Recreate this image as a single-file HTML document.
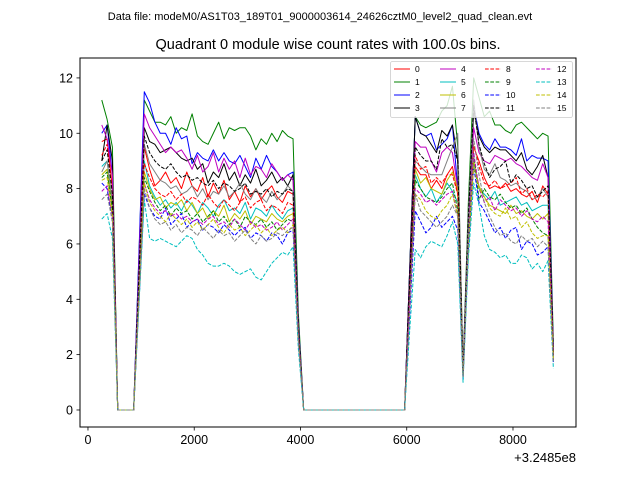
<!DOCTYPE html>
<html><head><meta charset="utf-8"><style>
body{margin:0;background:#fff;}
svg{display:block;font-family:"Liberation Sans","DejaVu Sans",sans-serif;}
</style></head><body>
<svg id="chart" width="640" height="480" xmlns="http://www.w3.org/2000/svg">
<rect width="640" height="480" fill="#fff"/>
<text x="320" y="20" font-size="11" text-anchor="middle">Data file: modeM0/AS1T03_189T01_9000003614_24626cztM0_level2_quad_clean.evt</text>
<text x="328" y="49" font-size="14.5" text-anchor="middle">Quadrant 0 module wise count rates with 100.0s bins.</text>
<g id="plot"></g>
<rect x="80" y="58" width="496" height="369" fill="none" stroke="#000" stroke-width="1"/>
<g id="axes"></g>
<text x="576" y="462" font-size="13" text-anchor="end">+3.2485e8</text>
<g id="legend"></g>
</svg>
<script>
const xTicks = [0, 2000, 4000, 6000, 8000];
const yTicks = [0, 2, 4, 6, 8, 10, 12];
const t0 = 260, dt = 100;
const seriesNames = ["0","1","2","3","4","5","6","7","8","9","10","11","12","13","14","15"];
const Z4=[0,0,0,0], Z19=[0,0,0,0,0,0,0,0,0,0,0,0,0,0,0,0,0,0,0];
const s0 = [9.7,9.8,8.0].concat(Z4,[4.8],[9.5,8.7,8.1,8.3,8.6,8.2,8.4,8.0,8.6,8.1,7.9,8.4,7.7,8.2,7.8,8.3,7.6,7.9,7.5,8.1,7.7,8.0,7.6,7.9,8.1,7.7,7.5,7.9,7.8],[3.0],Z19,[0,4.4],[8.8,8.5,8.5,8.0,8.3,8.0,8.5,8.8,7.8],[1.3],[6.2],[9.5,9.0,8.4,8.0,8.1,8.0,8.2,7.9,8.0,7.8,7.7,7.9,7.5,8.1,7.8],[2.0]);
const s1 = [11.2,10.5,9.5].concat(Z4,[5.6],[11.2,10.8,10.4,10.4,10.3,10.6,10.0,10.2,10.1,10.7,9.9,9.7,9.6,10.0,10.4,9.8,10.2,10.1,10.2,10.2,9.9,9.4,9.8,9.6,10.0,9.7,10.1,9.9,9.8],[3.5],Z19,[0,5.3],[10.6,10.3,10.2,10.3,10.4,10.8,11.0,11.7,9.5],[1.5],[7.5],[12.0,11.3,10.6,10.8,10.3,10.3,10.1,10.0,10.3,10.4,10.2,10.0,9.8,10.0,9.9],[2.4]);
const s2 = [10.0,10.3,8.5].concat(Z4,[5.7],[11.5,11.1,10.4,10.0,10.0,9.6,10.2,9.8,9.9,8.9,9.3,9.1,9.0,9.4,9.0,9.3,9.0,8.9,9.2,8.8,8.4,9.1,8.7,9.2,8.8,8.6,8.3,8.5,8.6],[3.2],Z19,[0,5.3],[10.6,10.0,9.9,10.0,9.4,9.6,9.8,10.3,8.0],[1.4],[7.0],[11.0,10.0,9.6,9.4,9.8,9.5,9.5,9.4,9.2,9.8,9.0,9.2,9.1,9.1,9.0],[2.2]);
const s3 = [9.0,10.3,9.0].concat(Z4,[5.1],[10.2,9.7,9.6,9.3,9.4,9.5,9.3,9.1,9.0,9.1,8.7,8.9,8.2,8.6,8.4,8.9,8.3,8.6,8.1,8.5,8.2,8.7,8.1,8.3,8.6,8.2,8.4,8.1,8.5],[3.1],Z19,[0,5.3],[10.6,10.0,9.9,9.6,9.3,10.1,9.9,10.3,9.0],[1.4],[6.9],[10.8,9.9,9.5,9.3,9.5,9.4,9.4,9.2,9.0,9.3,8.7,8.5,8.8,9.2,8.4],[2.1]);
const s4 = [10.3,9.8,8.5].concat(Z4,[5.3],[10.7,10.2,9.9,9.6,9.3,9.5,9.3,9.4,9.1,8.7,9.2,8.6,8.8,9.3,8.6,9.1,8.7,9.0,8.4,9.1,8.5,8.8,8.7,8.4,8.9,8.6,8.3,8.5,8.3],[3.0],Z19,[0,4.9],[9.7,9.5,9.5,9.0,8.6,9.3,9.5,9.3,8.0],[1.3],[6.6],[10.2,9.3,9.0,8.9,9.2,9.1,9.0,9.1,8.9,8.8,8.6,8.4,8.3,8.9,8.4],[2.0]);
const s5 = [8.8,9.0,7.5].concat(Z4,[4.5],[9.0,8.1,7.7,7.4,7.6,7.3,7.5,7.2,7.6,7.4,7.1,7.5,7.3,7.0,7.4,7.6,7.2,7.3,7.1,7.5,6.9,7.3,7.2,7.0,7.4,7.1,6.9,7.2,7.3],[2.8],Z19,[0,4.3],[8.5,8.0,7.7,8.0,7.5,7.8,8.2,7.9,7.5],[1.2],[6.0],[9.0,8.0,7.8,7.6,7.9,7.4,7.5,7.6,7.7,7.4,7.5,7.2,7.3,7.4,7.4],[1.9]);
const s6 = [8.5,8.7,7.3].concat(Z4,[4.3],[8.6,8.0,7.6,7.7,7.3,7.5,7.4,7.6,7.2,7.5,7.1,7.3,6.9,7.2,7.0,7.4,6.8,7.1,6.9,7.2,6.7,7.0,6.9,6.8,7.1,6.9,6.8,7.0,7.1],[2.7],Z19,[0,4.4],[8.7,8.2,8.4,8.0,7.9,7.8,8.3,8.6,8.0],[1.2],[6.0],[9.0,8.1,7.7,7.4,7.3,7.2,7.1,7.4,7.1,7.2,7.0,6.9,7.1,6.9,7.1],[1.9]);
const s7 = [8.6,9.0,7.5].concat(Z4,[4.8],[9.6,8.9,8.6,8.3,8.2,8.0,8.1,7.8,7.9,8.1,7.7,8.0,7.6,7.9,7.8,8.1,7.7,7.9,8.2,7.8,7.6,8.0,7.7,7.5,7.9,7.6,7.8,8.1,7.9],[2.9],Z19,[0,4.5],[9.0,8.8,8.6,8.5,8.5,8.5,9.0,9.5,10.0],[1.4],[7.2],[11.2,9.5,8.7,8.5,8.9,8.4,8.3,8.1,8.2,8.0,7.9,7.6,7.7,8.0,7.7],[2.0]);
const s8 = [9.2,9.6,7.8].concat(Z4,[4.5],[8.9,8.4,8.0,7.8,7.7,7.9,7.6,7.8,7.5,7.7,7.6,7.4,7.8,7.5,7.3,7.6,7.4,7.2,7.5,7.7,7.3,7.5,7.6,7.2,7.4,7.3,7.1,7.5,7.4],[2.8],Z19,[0,4.6],[9.2,8.7,8.8,8.2,8.4,8.2,8.5,8.5,7.8],[1.3],[6.2],[9.6,8.8,8.2,8.1,8.3,8.0,8.1,8.2,8.4,7.8,8.0,7.6,7.8,7.7,7.9],[2.0]);
const s9 = [8.4,8.6,7.2].concat(Z4,[4.2],[8.4,7.9,7.5,7.2,7.4,7.0,7.3,7.1,7.2,6.9,7.1,6.8,7.0,7.2,6.8,7.0,6.7,6.9,6.6,7.0,6.8,6.7,6.9,6.6,6.8,6.5,6.7,6.9,6.8],[2.6],Z19,[0,4.2],[8.3,8.0,7.7,7.6,7.5,7.7,8.0,8.2,7.2],[1.2],[6.1],[9.3,7.6,8.0,7.7,7.6,7.8,7.5,7.3,7.4,7.1,7.3,6.9,6.6,6.4,6.3],[1.8]);
const s10 = [8.2,8.0,6.8].concat(Z4,[3.9],[7.8,7.3,7.0,6.9,7.3,6.7,6.9,7.1,6.6,6.8,6.9,6.5,6.7,6.6,6.4,6.7,6.5,6.3,6.5,6.6,6.2,6.4,6.3,6.1,6.4,6.3,6.0,6.4,6.5],[2.5],Z19,[0,3.6],[7.2,6.8,6.4,6.6,7.0,6.6,6.8,7.0,6.5],[1.1],[5.8],[8.8,7.5,7.2,6.8,6.4,6.6,6.2,6.5,6.6,5.8,6.1,6.0,5.6,5.7,5.9],[1.7]);
const s11 = [9.0,9.4,7.8].concat(Z4,[4.9],[9.9,9.3,9.0,8.8,8.7,8.9,8.6,8.4,8.5,8.3,8.4,8.2,8.1,8.3,8.0,8.2,8.1,7.9,8.0,8.2,7.8,7.9,7.8,8.0,7.7,7.9,7.8,8.0,7.9],[2.9],Z19,[0,4.8],[9.5,9.2,9.0,9.0,8.7,9.8,9.5,9.6,9.0],[1.3],[7.0],[11.0,9.6,8.9,8.4,8.7,8.8,9.0,8.2,8.5,8.3,8.0,8.1,7.7,7.9,8.1],[2.0]);
const s12 = [7.9,8.1,7.0].concat(Z4,[4.1],[8.2,7.6,7.3,7.1,7.2,7.0,7.1,6.9,7.0,6.8,6.9,6.7,6.9,7.0,6.7,6.8,6.6,6.9,6.7,6.5,6.8,6.6,6.7,6.5,6.6,6.8,6.5,6.7,6.9],[2.6],Z19,[0,4.0],[8.0,7.8,7.5,7.6,7.4,7.6,7.8,7.9,7.0],[1.2],[6.2],[9.3,8.0,7.5,7.7,7.2,7.6,7.4,7.2,7.3,7.0,7.2,6.9,6.8,7.0,6.8],[1.8]);
const s13 = [6.9,7.1,6.2].concat(Z4,[3.8],[7.6,6.2,6.1,6.2,6.1,6.0,5.9,6.1,6.3,6.2,5.8,5.6,5.3,5.2,5.2,5.3,5.2,5.0,4.9,5.0,5.1,4.8,4.7,5.0,5.3,5.5,5.7,5.6,5.9],[2.2],Z19,[0,3.0],[5.8,5.5,5.9,6.1,6.0,5.9,6.3,6.8,6.0],[1.0],[5.5],[8.2,7.4,6.3,5.8,5.7,5.5,5.6,5.3,5.3,5.6,5.5,5.1,5.3,5.0,5.4],[1.5]);
const s14 = [8.3,8.4,7.0].concat(Z4,[4.1],[8.2,7.5,7.2,7.0,6.8,7.1,6.9,6.7,6.9,6.6,6.8,6.5,6.7,6.9,6.6,6.4,6.7,6.5,6.6,6.3,6.5,6.7,6.4,6.6,6.3,6.5,6.6,6.4,6.7],[2.6],Z19,[0,3.9],[7.8,7.6,7.2,7.0,6.9,7.2,7.4,7.8,7.0],[1.2],[6.0],[8.8,8.0,7.7,7.3,7.1,7.0,7.3,6.9,7.0,6.6,6.8,6.4,6.2,6.3,6.3],[1.8]);
const s15 = [7.6,7.8,6.8].concat(Z4,[4.0],[8.0,7.3,6.9,6.7,6.8,6.5,6.7,6.4,6.6,6.5,6.3,6.6,6.4,6.2,6.5,6.3,6.4,6.1,6.3,6.5,6.2,6.0,6.3,6.1,6.2,6.4,6.3,6.5,6.6],[2.5],Z19,[0,3.9],[7.8,7.2,7.0,6.8,6.6,6.8,7.0,7.4,7.0],[1.2],[6.3],[9.8,8.5,7.5,7.0,6.6,6.3,6.4,6.1,6.0,6.3,6.1,6.2,5.9,6.1,5.9],[1.7]);
const allSeries = [s0,s1,s2,s3,s4,s5,s6,s7,s8,s9,s10,s11,s12,s13,s14,s15];
const colors = ["#ff0000","#008000","#0000ff","#000000","#bf00bf","#00bfbf","#bfbf00","#808080"];

const NS="http://www.w3.org/2000/svg";
const X0=80, X1=576, Y0=58, Y1=427;
const xMin=-150, xMax=9186, yMin=-0.615, yMax=12.72;
function xs(t){return X0+(t-xMin)/(xMax-xMin)*(X1-X0);}
function ys(v){return Y1-(v-yMin)/(yMax-yMin)*(Y1-Y0);}
function mk(tag,attrs,parent){const e=document.createElementNS(NS,tag);for(const k in attrs)e.setAttribute(k,attrs[k]);parent.appendChild(e);return e;}

const plot=document.getElementById('plot');
allSeries.forEach((vals,i)=>{
  const pts=vals.map((v,k)=>xs(t0+k*dt).toFixed(2)+','+ys(v).toFixed(2)).join(' ');
  const pl=mk('polyline',{points:pts,fill:'none',stroke:colors[i%8],'stroke-width':1,'stroke-linejoin':'round'},plot);
  if(i>=8) pl.setAttribute('stroke-dasharray','3.7,1.6');
  
  
});

const axes=document.getElementById('axes');
xTicks.forEach(t=>{
  const x=xs(t);
  const l=mk('line',{x1:x,x2:x,y1:Y1,y2:Y1+3.5,stroke:'#000','stroke-width':0.8},axes);
  
  
  const tx=mk('text',{x:x,y:Y1+17,'font-size':12.5,'text-anchor':'middle'},axes);
  tx.textContent=t;
  
  
});
yTicks.forEach(v=>{
  const y=ys(v);
  const l=mk('line',{x1:X0-3.5,x2:X0,y1:y,y2:y,stroke:'#000','stroke-width':0.8},axes);
  
  
  const tx=mk('text',{x:X0-7,y:y+4.5,'font-size':12.5,'text-anchor':'end'},axes);
  tx.textContent=v;
  
  
});

const lg=document.getElementById('legend');
const box=mk('rect',{x:390.5,y:61.5,width:182,height:56,rx:2,fill:'#fff','fill-opacity':0.8,stroke:'#ccc','stroke-width':0.8},lg);


const colX=[394,440,485,536];
seriesNames.forEach((n,i)=>{
  const c=Math.floor(i/4), r=i%4;
  const y=69+r*13;
  const g=mk('g',{},lg);
  
  
  const l=mk('line',{x1:colX[c],x2:colX[c]+16,y1:y,y2:y,stroke:colors[i%8],'stroke-width':1},g);
  if(i>=8) l.setAttribute('stroke-dasharray','3.7,1.6');
  const tx=mk('text',{x:colX[c]+21,y:y+3,'font-size':8.5},g);
  tx.textContent=n;
});
</script>
</body></html>
